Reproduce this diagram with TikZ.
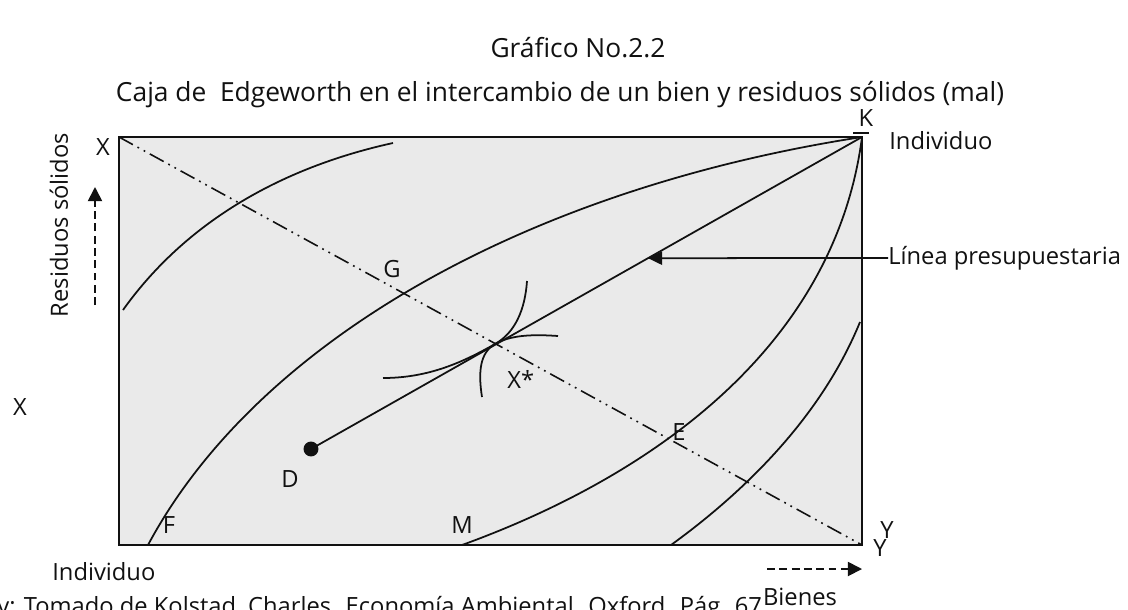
\documentclass[tikz,border=0pt]{standalone}
\usepackage{fontspec}
\setmainfont{Open Sans}
\usepackage{tikz}
\usetikzlibrary{arrows.meta,calc}
\definecolor{cInk}{HTML}{111111}
\definecolor{cBox}{HTML}{EAEAEA}
\tikzset{
  lbl/.style={font=\fontsize{13.5}{16}\selectfont,text=cInk,inner sep=0pt},
  ttl/.style={lbl,font=\fontsize{15}{18}\selectfont},
  crv/.style={line width=1pt,color=cInk},
  ddot/.style={line width=0.9pt,color=cInk,dash pattern=on 9pt off 3pt on 1pt off 3pt on 1pt off 3pt},
  darr/.style={-{Triangle[length=8pt,width=8pt]},line width=1pt,color=cInk,dash pattern=on 4.5pt off 2.5pt},
  larr/.style={-{Triangle[length=8pt,width=7.5pt]},line width=1pt,color=cInk},
  dot/.style={circle,fill=cInk,inner sep=0pt,minimum size=8.5pt},
}
\begin{document}
\begin{tikzpicture}[x=0.02cm,y=-0.02cm]
  \useasboundingbox (0,0) rectangle (1128,609);
  \coordinate (Xc) at (119,137);
  \coordinate (K)  at (862,137);
  \coordinate (Yc) at (862,545);
  \coordinate (O)  at (119,545);
  \fill[cBox] (O) rectangle (K);
  % contract line X -- Y
  \draw[ddot] (Xc) -- (Yc);
  % indifference curves
  \draw[crv] (123,310) .. controls (180,230) and (270,170) .. (393,143);
  \draw[crv] (148,545) .. controls (255,345) and (520,190) .. (K);
  \draw[crv] (462,545) .. controls (655,475) and (835,345) .. (K);
  \draw[crv] (671,545) .. controls (740,495) and (820,420) .. (860,322);
  % tangency at X*
  \coordinate (T) at (495,344);
  \draw[crv] (383,378) .. controls (430,378) and (465,361) .. (T) .. controls (515,332.7) and (525,310) .. (527,281);
  \draw[crv] (482,397) .. controls (478,372) and (480,352.5) .. (T) .. controls (510,335.5) and (530,334) .. (558,336);
  % budget line
  \node[dot] (D) at (311,449) {};
  \draw[crv] (D.center) -- (K);
  \draw[crv] ($(K)+(-9,-4)$) -- ($(K)+(7,-4)$);
  \draw[line width=1pt,color=cInk] (O) rectangle (K);

  \node[ttl,anchor=base] (tit) at (578,57) {Gráfico No.2.2};
  \node[ttl,anchor=base] (sub) at (560,101) {Caja de~~Edgeworth en el intercambio de un bien y residuos sólidos (mal)};
  \node[lbl,anchor=base] (kK) at (866,126) {K};
  \node[lbl,anchor=base west] (indB) at (889,149) {Individuo};
  \node[lbl,anchor=base] (kX) at (103,155) {X};
  \node[lbl,anchor=base] (kG) at (392,277) {G};
  \node[lbl,anchor=base west] (kXs) at (507,388) {X*};
  \node[lbl,anchor=base] (kE) at (679,440) {E};
  \node[lbl,anchor=base] (kD) at (290,487) {D};
  \node[lbl,anchor=base] (kF) at (169,533) {F};
  \node[lbl,anchor=base] (kM) at (462,533) {M};
  \node[lbl,anchor=base] (kY2) at (887,538) {Y};
  \node[lbl,anchor=base] (kY) at (880,556) {Y};
  \node[lbl,rotate=90] (res) at (59,225) {Residuos sólidos};
  \node[lbl] (kXl) at (20,407) {X};
  \node[lbl,anchor=base west] (indA) at (52,580) {Individuo};
  \node[lbl,anchor=base] (bie) at (800,605) {Bienes};
  \node[lbl,anchor=base west] (src) at (-3,614) {y: Tomado de Kolstad, Charles. Economía Ambiental. Oxford. Pág. 67};
  \node[lbl,anchor=west] (lp) at (888,258) {Línea presupuestaria};

  % arrows
  \coordinate (bl) at ($(D)!0.6116!(K)$);
  \draw[larr] (lp.west) -- (bl);
  \coordinate (ra0) at (95,305);
  \coordinate (ra1) at (95,187);
  \draw[darr] (ra0) -- (ra1);
  \coordinate (ba0) at (767,569);
  \coordinate (ba1) at (862,569);
  \draw[darr] (ba0) -- (ba1);
\end{tikzpicture}
\end{document}
